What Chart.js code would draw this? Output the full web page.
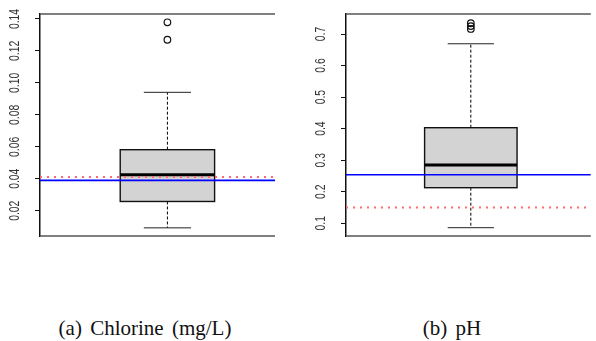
<!DOCTYPE html>
<html>
<head>
<meta charset="utf-8">
<script src="https://cdn.jsdelivr.net/npm/chart.js@4.4.0/dist/chart.umd.min.js"></script>
<style>
  html, body { margin: 0; padding: 0; background: #fff; }
  #wrap { position: relative; width: 596px; height: 341px; overflow: hidden; }
  canvas { position: absolute; top: 0; }
  .cap { position: absolute; top: 318px; width: 220px; height: 20px; line-height: 20px;
         text-align: center; font-family: "Liberation Serif", "Times New Roman", serif;
         font-size: 21px; word-spacing: 3px; color: #111; white-space: nowrap; }
</style>
</head>
<body>
<div id="wrap">
  <canvas id="chlorine" width="296" height="250" style="left:0"></canvas>
  <canvas id="ph" width="300" height="250" style="left:296px"></canvas>
  <div class="cap" style="left:35px">(a) Chlorine (mg/L)</div>
  <div class="cap" style="left:342px">(b) pH</div>
</div>
<script>
// box stats: lower whisker, Q1, median, Q3, upper whisker
const chlorineStats = [0.0093, 0.0258, 0.0425, 0.0582, 0.0941];
const chlorineOutliers = [0.1379, 0.1270];
const chlorineBlue = 0.0390;
const chlorineRed = 0.0411;
const chlorineTicks = [0.02, 0.04, 0.06, 0.08, 0.10, 0.12, 0.14];
const chlorineRange = [0.0042, 0.1431];

const phStats = [0.086, 0.2128, 0.2848, 0.403, 0.669];
const phOutliers = [0.734, 0.725, 0.716];
const phBlue = 0.254;
const phRed = 0.15;
const phTicks = [0.1, 0.2, 0.3, 0.4, 0.5, 0.6, 0.7];
const phRange = [0.0597, 0.7634];

// draws the box, whiskers, frame and rotated tick labels using the chart scales
const boxPlugin = {
  id: 'boxplot',
  beforeDatasetsDraw(chart, args, opts) {
    const ctx = chart.ctx, x = chart.scales.x, y = chart.scales.y;
    const s = opts.stats;
    const xl = x.getPixelForValue(0.8), xr = x.getPixelForValue(1.2), xc = x.getPixelForValue(1);
    const cl = x.getPixelForValue(0.9), cr = x.getPixelForValue(1.1);
    ctx.save();
    // whiskers
    ctx.strokeStyle = '#000';
    ctx.lineWidth = 1;
    ctx.setLineDash([3, 2]);
    ctx.beginPath();
    ctx.moveTo(xc, y.getPixelForValue(s[3]));
    ctx.lineTo(xc, y.getPixelForValue(s[4]));
    ctx.moveTo(xc, y.getPixelForValue(s[1]));
    ctx.lineTo(xc, y.getPixelForValue(s[0]));
    ctx.stroke();
    ctx.setLineDash([]);
    ctx.beginPath();
    ctx.moveTo(cl, y.getPixelForValue(s[4]));
    ctx.lineTo(cr, y.getPixelForValue(s[4]));
    ctx.moveTo(cl, y.getPixelForValue(s[0]));
    ctx.lineTo(cr, y.getPixelForValue(s[0]));
    ctx.strokeStyle = '#222';
    ctx.stroke();
    // box
    const yt = y.getPixelForValue(s[3]), yb = y.getPixelForValue(s[1]);
    ctx.fillStyle = '#d3d3d3';
    ctx.fillRect(xl, yt, xr - xl, yb - yt);
    ctx.strokeStyle = '#111';
    ctx.lineWidth = 1.4;
    ctx.strokeRect(xl, yt, xr - xl, yb - yt);
    // median
    ctx.lineWidth = 3;
    ctx.strokeStyle = '#000';
    ctx.beginPath();
    ctx.moveTo(xl, y.getPixelForValue(s[2]));
    ctx.lineTo(xr, y.getPixelForValue(s[2]));
    ctx.stroke();
    ctx.restore();
  },
  afterDraw(chart, args, opts) {
    const ctx = chart.ctx, a = chart.chartArea, y = chart.scales.y;
    ctx.save();
    // top and bottom of the frame
    ctx.strokeStyle = '#555';
    ctx.lineWidth = 1.5;
    ctx.beginPath();
    ctx.moveTo(a.left, a.top);
    ctx.lineTo(a.right, a.top);
    ctx.moveTo(a.left, a.bottom);
    ctx.lineTo(a.right, a.bottom);
    ctx.stroke();
    // rotated tick labels
    ctx.fillStyle = '#333';
    ctx.font = '14px "Liberation Sans", Arial, sans-serif';
    ctx.textAlign = 'center';
    ctx.textBaseline = 'middle';
    y.ticks.forEach(t => {
      ctx.save();
      ctx.translate(a.left - 25, y.getPixelForValue(t.value));
      ctx.rotate(-Math.PI / 2);
      ctx.scale(0.74, 1);
      ctx.fillText(t.value.toFixed(opts.decimals), 0, 0);
      ctx.restore();
    });
    ctx.restore();
  }
};

function makeChart(id, stats, outliers, blue, red, ticks, range, xMax, axisWidth, padRight, decimals) {
  const xMin = 0.46;
  new Chart(document.getElementById(id), {
    type: 'scatter',
    data: {
      datasets: [
        {
          data: outliers.map(v => ({ x: 1, y: v })),
          pointStyle: 'circle',
          pointRadius: 3.3,
          borderColor: '#111',
          backgroundColor: 'rgba(0,0,0,0)',
          borderWidth: 1.2
        },
        {
          type: 'line',
          data: [{ x: xMin, y: blue }, { x: xMax, y: blue }],
          borderColor: '#0000ff',
          borderWidth: 1.6,
          pointRadius: 0
        },
        {
          type: 'line',
          data: [{ x: xMin, y: red }, { x: xMax, y: red }],
          borderColor: '#ff6a6a',
          borderWidth: 2,
          borderDash: [2, 5],
          pointRadius: 0
        }
      ]
    },
    options: {
      responsive: false,
      animation: false,
      devicePixelRatio: 1,
      layout: { padding: { top: 14, bottom: 14, left: 0, right: padRight } },
      plugins: {
        legend: { display: false },
        tooltip: { enabled: false },
        boxplot: { stats: stats, decimals: decimals }
      },
      scales: {
        x: { type: 'linear', min: xMin, max: xMax, display: false },
        y: {
          type: 'linear',
          min: range[0],
          max: range[1],
          afterBuildTicks: s => { s.ticks = ticks.map(v => ({ value: v })); },
          afterFit: s => { s.width = axisWidth; },
          ticks: { display: false },
          grid: { drawOnChartArea: false, drawTicks: true, tickLength: 5, color: '#111', lineWidth: 1 },
          border: { display: true, color: '#111', width: 1.5 }
        }
      }
    },
    plugins: [boxPlugin]
  });
}

makeChart('chlorine', chlorineStats, chlorineOutliers, chlorineBlue, chlorineRed, chlorineTicks, chlorineRange, 1.456, 40, 21, 2);
makeChart('ph', phStats, phOutliers, phBlue, phRed, phTicks, phRange, 1.519, 50, 0, 1);
</script>
</body>
</html>
